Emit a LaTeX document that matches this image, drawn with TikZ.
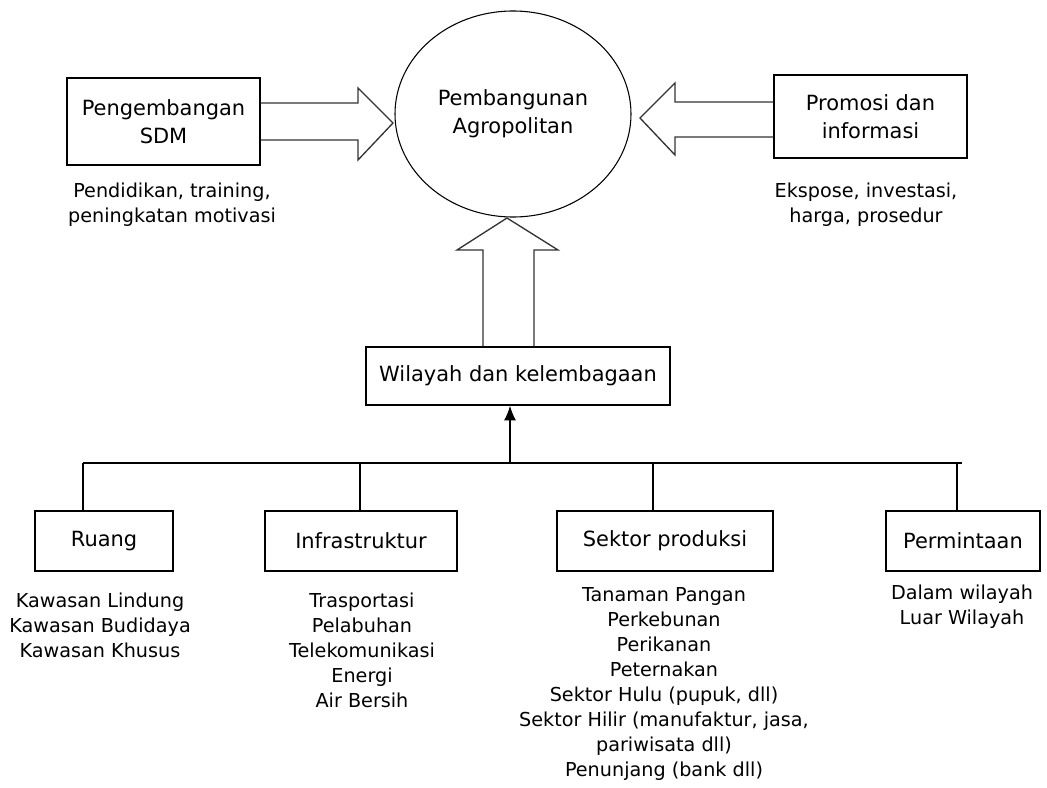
\documentclass[tikz,border=0pt]{standalone}
\usepackage{fontspec}
\setmainfont{DejaVu Sans}
\usetikzlibrary{calc}
\usetikzlibrary{arrows.meta}
\usetikzlibrary{positioning, shapes.geometric}

\newcommand{\lblfont}{\fontsize{15.7}{21}\selectfont}
\newcommand{\lstfont}{\fontsize{14.4}{18.75}\selectfont}

\begin{document}
\begin{tikzpicture}[x=0.75pt,y=-0.75pt,
    box/.style={draw, line width=1.1pt, inner sep=0pt, align=center, font=\lblfont},
    hollow/.style={draw=black!80, line width=1pt, line join=miter},
    list/.style={anchor=north, inner sep=0pt, align=center, font=\lstfont}]

    \useasboundingbox (0,0) rectangle (1047,788);

    % centre and the three inputs
    \node[box, ellipse, line width=0.8pt, minimum width=177pt, minimum height=154.5pt] (agro) at (513,114) {Pembangunan\\Agropolitan};
    \node[box, minimum width=144.75pt, minimum height=65.25pt] (sdm) at (163.5,121.5) {Pengembangan\\SDM};
    \node[box, minimum width=144.75pt, minimum height=62.25pt] (promo) at (870.5,116.5) {Promosi dan\\informasi};
    \node[box, minimum width=228pt, minimum height=43.5pt] (wil) at (518,376) {Wilayah dan kelembagaan};

    % the four components, change the boxes here
    \begin{scope}[every node/.style={box, minimum height=45pt}]
    \node[minimum width=103.5pt] (ruang) at (104,541) {Ruang};
    \node[minimum width=144pt] (infra) at (361,541) {Infrastruktur};
    \node[minimum width=162pt] (sektor) at (665,541) {Sektor produksi};
    \node[minimum width=115.5pt] (minta) at (963,541) {Permintaan};
    \end{scope}

    % texts under the boxes
    \node[list] (sdmtxt) at (172,183) {Pendidikan, training,\\peningkatan motivasi};
    \node[list] (promotxt) at (866,183) {Ekspose, investasi,\\harga, prosedur};
    \node[list] (ruangtxt) at (100,593) {Kawasan Lindung\\Kawasan Budidaya\\Kawasan Khusus};
    \node[list] (infratxt) at (362,593) {Trasportasi\\Pelabuhan\\Telekomunikasi\\Energi\\Air Bersih};
    \node[list] (sektortxt) at (664,587) {Tanaman Pangan\\Perkebunan\\Perikanan\\Peternakan\\Sektor Hulu (pupuk, dll)\\Sektor Hilir (manufaktur, jasa,\\pariwisata dll)\\Penunjang (bank dll)};
    \node[list] (mintatxt) at (962,585) {Dalam wilayah\\Luar Wilayah};

    % big hollow arrows
    \draw[hollow] ($(sdm.east)+(0,-18.5)$) -- (358,103) -- (358,88) -- (393,123)
        -- (358,160) -- (358,140) -- ($(sdm.east)+(0,18.5)$);
    \draw[hollow] ($(promo.west)+(0,-14.5)$) -- (675,102) -- (675,83) -- (640,118)
        -- (675,155) -- (675,137) -- ($(promo.west)+(0,20.5)$);
    \draw[hollow] ($(wil.north)+(-35,0)$) -- (483,250) -- (457,250) -- (507,218)
        -- (558,250) -- (534,250) -- ($(wil.north)+(16,0)$);

    % bus line and drops
    \coordinate (busL) at (83,463);
    \coordinate (busR) at (962,463);
    \coordinate (dup) at (510,463);
    \coordinate (dinfra) at (360,463);
    \coordinate (dsektor) at (653,463);
    \coordinate (dminta) at (957,463);
    \begin{scope}[line width=1.1pt]
    \draw (busL) -- (busR);
    \draw (busL) -- (busL |- ruang.north);
    \draw (dinfra) -- (dinfra |- infra.north);
    \draw (dsektor) -- (dsektor |- sektor.north);
    \draw (dminta) -- (dminta |- minta.north);
    \draw[-{Latex[length=11pt,width=9pt]}] (dup) -- (dup |- wil.south);
    \end{scope}

\end{tikzpicture}
\end{document}
